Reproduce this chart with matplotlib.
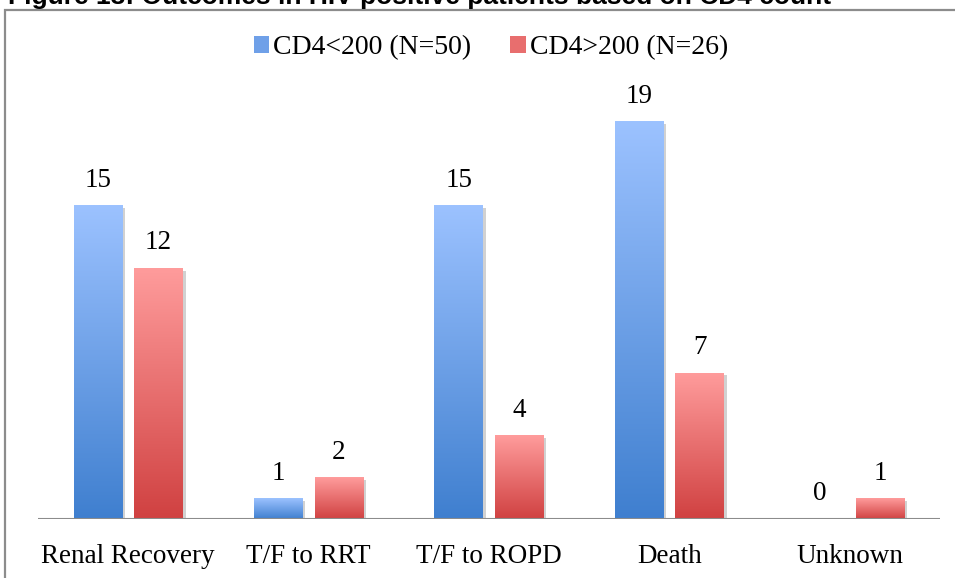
import matplotlib
matplotlib.use("Agg")
import matplotlib.pyplot as plt
import matplotlib.patheffects as pe
from matplotlib.patches import Rectangle, Patch
import numpy as np

# Outcomes by CD4 count
categories = ["Renal Recovery", "T/F to RRT", "T/F to ROPD", "Death", "Unknown"]
cd4_low = [15, 1, 15, 19, 0]
cd4_high = [12, 2, 4, 7, 1]
series_names = ["CD4<200 (N=50)", "CD4>200 (N=26)"]
title = "Figure 13: Outcomes in HIV-positive patients based on CD4 count"

blue_top, blue_bot = "#9cc2ff", "#3f7fcf"
red_top, red_bot = "#ff9c9c", "#d04141"

W, H = 955, 578
fig = plt.figure(figsize=(W / 100, H / 100), dpi=100)
ax = fig.add_axes([38 / W, (H - 519) / H, 902 / W, (519 - 79.5) / H])

serif = "Liberation Serif"


def gradient_bars(xs, vals, top, bot):
    bars = ax.bar(xs, vals, width=0.27, color=bot, zorder=2)
    cmap = matplotlib.colors.LinearSegmentedColormap.from_list("g", [bot, top])
    grad = np.linspace(0, 1, 256).reshape(-1, 1)
    for b in bars:
        h = b.get_height()
        if h <= 0:
            b.set_visible(False)
            continue
        b.set_path_effects([pe.SimplePatchShadow(offset=(2, -2), shadow_rgbFace="k", alpha=0.18), pe.Normal()])
        x0 = b.get_x()
        im = ax.imshow(grad, extent=(x0, x0 + b.get_width(), 0, h), origin="lower",
                       aspect="auto", cmap=cmap, zorder=3)
        im.set_clip_path(b)
    for x, v in zip(xs, vals):
        ax.annotate(str(v), (x, v), xytext=(0, 25), textcoords="offset pixels",
                    ha="center", va="center", fontsize=19.5, family=serif)
    return bars


x = np.arange(len(categories))
gradient_bars(x - 0.168, cd4_low, blue_top, blue_bot)
gradient_bars(x + 0.168, cd4_high, red_top, red_bot)

ax.set_xlim(-0.5, len(categories) - 0.5)
ax.set_ylim(0, 21)
ax.axhline(0, color="#8c8c8c", lw=1.5, zorder=4)
for s in ax.spines.values():
    s.set_visible(False)
ax.set_yticks([])
ax.set_xticks(x)
ax.set_xticklabels(categories, family=serif, fontsize=19.5)
ax.tick_params(axis="x", length=0, pad=18)

handles = [Patch(facecolor=c) for c in ["#6fa0e8", "#e86e6e"]]
fig.legend(handles, series_names, loc="center", ncol=2, frameon=False,
           bbox_to_anchor=(491 / W, 1 - 48 / H), prop={"family": serif, "size": 20},
           handlelength=0.55, handleheight=0.55, handletextpad=0.15, columnspacing=1.4)

# outer frame (cut by the image edges)
fig.patches.append(Rectangle((5 / W, -0.1), 1.2, 1.1 - 9.5 / H, transform=fig.transFigure,
                             facecolor="none", edgecolor="#8c8c8c", lw=1.6))

fig.text(8 / W, 1 - 4 / H, title, ha="left", va="baseline", fontsize=19,
         fontweight="bold", family="Liberation Sans")

fig.savefig("out.png", dpi=100)
